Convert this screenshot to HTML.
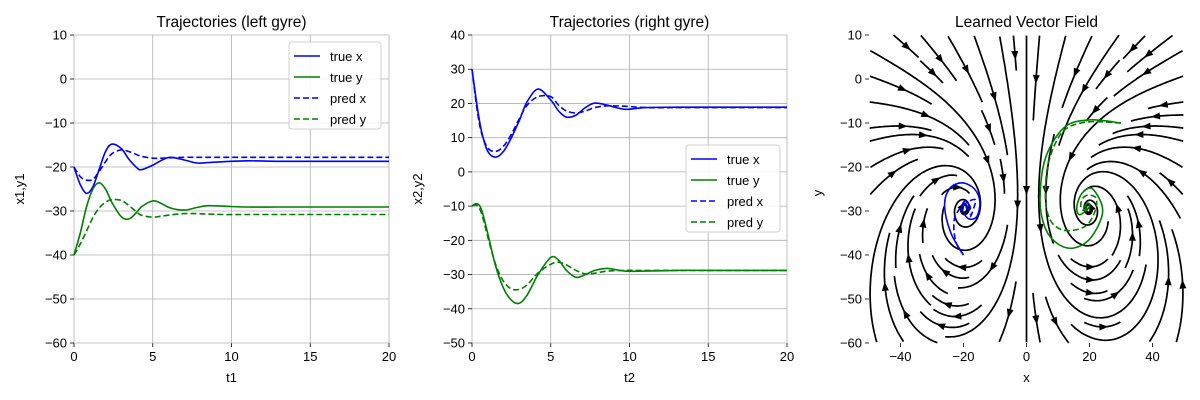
<!DOCTYPE html>
<html><head><meta charset="utf-8"><style>
body{margin:0;background:#fff}
svg{display:block;font-family:"Liberation Sans","DejaVu Sans",sans-serif}
</style></head><body>
<svg id="fig" width="1200" height="400" viewBox="0 0 1200 400"></svg>
<script>
// ---- data ----
const t1 = [0,0.4,0.8,1.2,1.6,2,2.4,3,3.5,4,4.3,5,5.5,6.1,7,7.8,8.5,9.5,11,13,15,20];
const trueX1 = [-20,-24,-26,-24.5,-20.5,-16.5,-14.8,-15.8,-18.3,-20.2,-20.6,-19.6,-18.6,-17.8,-18.4,-19.1,-19,-18.8,-18.6,-18.7,-18.7,-18.7];
const predX1 = [-20,-22.2,-23,-22.8,-21,-18.8,-17,-16.1,-16.5,-17.2,-17.6,-18,-18,-17.9,-17.8,-17.8,-17.8,-17.8,-17.8,-17.8,-17.8,-17.8];
const trueY1 = [-40,-35,-29,-25,-23.6,-25,-28,-31.3,-31.8,-30.2,-29,-27.7,-28.2,-29.3,-29.8,-29.2,-28.8,-28.9,-29.1,-29.1,-29.1,-29.1];
const predY1 = [-40,-37.5,-34.5,-31.5,-29.3,-28,-27.4,-27.6,-28.8,-30.3,-31,-31.4,-31.2,-30.9,-30.6,-30.6,-30.7,-30.8,-30.8,-30.8,-30.8,-30.8];
const t2 = [0,0.3,0.6,1,1.5,2,2.5,3,3.5,4.2,5,5.5,6,6.6,7.2,7.8,8.6,9.7,11,13,15,20];
const trueX2 = [30,20,12,6,4.3,6,10,15,20.5,24.2,21,17.8,16,16.6,18.8,20.1,19.5,18.3,18.8,18.9,18.9,18.9];
const predX2 = [30,19,11.5,7,6,7.5,11,15.5,19.5,22,22,19.5,17.8,17.2,17.8,18.8,19.3,19.2,18.8,18.8,18.8,18.8];
const trueY2 = [-10,-9.3,-11,-18,-27.5,-34,-37.5,-38.4,-36,-30,-25,-25.8,-28.8,-30.8,-30,-28.8,-28.2,-29,-29,-28.8,-28.8,-28.8];
const predY2 = [-10,-9.8,-12,-19,-27,-32,-34.2,-34.3,-33,-29.5,-27,-26.4,-27.2,-28.8,-29.8,-29.6,-29,-28.8,-28.8,-28.8,-28.8,-28.8];
const xTicks12 = [0,5,10,15,20];
const yTicks1 = [10,0,-10,-20,-30,-40,-50,-60];
const yTicks2 = [40,30,20,10,0,-10,-20,-30,-40,-50];
const xTicks3 = [-40,-20,0,20,40];
const yTicks3 = [10,0,-10,-20,-30,-40,-50,-60];
const gyreCenters = [[-19,-29,-1],[19,-29,1]];

const NS='http://www.w3.org/2000/svg';
const fig=document.getElementById('fig');
const fmt=v=>String(v).replace('-','\u2212');
function mk(tag,attrs,parent){const e=document.createElementNS(NS,tag);for(const k in attrs)e.setAttribute(k,attrs[k]);(parent||fig).appendChild(e);return e;}
function txt(s,x,y,size,anchor,parent,rot){const e=mk('text',{x:x,y:y,'font-size':size,'text-anchor':anchor||'middle',fill:'#000'},parent);if(rot)e.setAttribute('transform','rotate(-90 '+x+' '+y+')');e.textContent=s;return e;}
function smoothPath(pts){let d='M'+pts[0][0].toFixed(1)+','+pts[0][1].toFixed(1);for(let i=0;i<pts.length-1;i++){const p0=pts[Math.max(0,i-1)],p1=pts[i],p2=pts[i+1],p3=pts[Math.min(pts.length-1,i+2)];const c1=[p1[0]+(p2[0]-p0[0])/6,p1[1]+(p2[1]-p0[1])/6],c2=[p2[0]-(p3[0]-p1[0])/6,p2[1]-(p3[1]-p1[1])/6];d+='C'+c1[0].toFixed(1)+','+c1[1].toFixed(1)+' '+c2[0].toFixed(1)+','+c2[1].toFixed(1)+' '+p2[0].toFixed(1)+','+p2[1].toFixed(1);}return d;}

function timePanel(o){
  const g=mk('g',{});
  const L=o.left,R=o.left+315,T=35,B=343;
  const sx=v=>L+(v-0)/20*(R-L), sy=v=>T+(o.ymax-v)/(o.ymax-o.ymin)*(B-T);
  o.xt.forEach(v=>{mk('line',{x1:sx(v),x2:sx(v),y1:T,y2:B,stroke:'#b0b0b0','stroke-width':0.8},g);mk('line',{x1:sx(v),x2:sx(v),y1:B,y2:B+4,stroke:'#000','stroke-width':0.8},g);txt(fmt(v),sx(v),B+18,13,'middle',g);});
  o.yt.forEach(v=>{mk('line',{x1:L,x2:R,y1:sy(v),y2:sy(v),stroke:'#b0b0b0','stroke-width':0.8},g);mk('line',{x1:L-4,x2:L,y1:sy(v),y2:sy(v),stroke:'#000','stroke-width':0.8},g);txt(fmt(v),L-7,sy(v)+4.5,13,'end',g);});
  const t=txt(o.title,(L+R)/2,27,15.5,'middle',g);
  const xl=txt(o.xlab,(L+R)/2,382,13,'middle',g);
  const yl=txt(o.ylab,L-50,(T+B)/2,13,'middle',g,true);
  const series=[[o.tx,o.s[0],'blue',null,'true-x-line'],[o.tx,o.s[1],'green',null,'true-y-line'],[o.tx,o.s[2],'blue','6,3','pred-x-line'],[o.tx,o.s[3],'green','6,3','pred-y-line']];
  series.forEach(s=>{const p=mk('path',{d:smoothPath(s[0].map((tv,i)=>[sx(tv),sy(s[1][i])])),fill:'none',stroke:s[2],'stroke-width':1.6},g);if(s[3])p.setAttribute('stroke-dasharray',s[3]);});
  const lg=mk('g',{},g);
  mk('rect',{x:o.lx,y:o.ly,width:o.lw,height:87,rx:3,fill:'#fff','fill-opacity':0.85,stroke:'#d0d0d0'},lg);
  const labs=['true x','true y','pred x','pred y'],cols=['blue','green','blue','green'];
  labs.forEach((s,i)=>{const y=o.ly+14+i*21;const ln=mk('line',{x1:o.lx+5,x2:o.lx+31,y1:y,y2:y,stroke:cols[i],'stroke-width':1.6},lg);if(i>1)ln.setAttribute('stroke-dasharray','6,3');txt(s,o.lx+41,y+5,13,'start',lg);});
}
timePanel({name:'left-gyre-panel',left:74,ymax:10,ymin:-60,xt:xTicks12,yt:yTicks1,title:'Trajectories (left gyre)',xlab:'t1',ylab:'x1,y1',tx:t1,s:[trueX1,trueY1,predX1,predY1],lx:289,ly:42,lw:92});
timePanel({name:'right-gyre-panel',left:472,ymax:40,ymin:-50,xt:xTicks12,yt:yTicks2,title:'Trajectories (right gyre)',xlab:'t2',ylab:'x2,y2',tx:t2,s:[trueX2,trueY2,predX2,predY2],lx:686,ly:145,lw:94});

// ---- vector field panel ----
(function(){
  const g=mk('g',{});
  const L=869,R=1184,T=35,B=343,X0=-50,X1=50,Y0=-60,Y1=10;
  const sx=v=>L+(v-X0)/(X1-X0)*(R-L), sy=v=>T+(Y1-v)/(Y1-Y0)*(B-T);
  const t=txt('Learned Vector Field',(L+R)/2,27,15.5,'middle',g);
  xTicks3.forEach(v=>{mk('line',{x1:sx(v),x2:sx(v),y1:B,y2:B+4,stroke:'#000','stroke-width':0.8},g);txt(fmt(v),sx(v),B+18,13,'middle',g);});
  yTicks3.forEach(v=>{mk('line',{x1:L-4,x2:L,y1:sy(v),y2:sy(v),stroke:'#000','stroke-width':0.8},g);txt(fmt(v),L-7,sy(v)+4.5,13,'end',g);});
  const xl=txt('x',(L+R)/2,382,13,'middle',g);
  const yl=txt('y',L-47,(T+B)/2+4,13,'middle',g,true);
  function field(x,y){let u=0,v=0;gyreCenters.forEach(c=>{const dx=x-c[0],dy=y-c[1],r2=dx*dx+dy*dy+30;u+=(c[2]*-dy*1.0-dx*0.3)/r2*100;v+=(c[2]*dx*1.0-dy*0.3)/r2*100;});v-=0.3;return [u,v];}
  const N=25,occ=new Int32Array(N*N).fill(-1);
  const lines=g.appendChild(document.createElementNS(NS,'g'));
  
  let id=0;
  function integ(gx,gy,dir,myId,cells){const pts=[];let x=gx,y=gy;for(let k=0;k<700;k++){const dx=X0+x/N*(X1-X0),dy=Y0+y/N*(Y1-Y0);let [u,v]=field(dx,dy);u=u/(X1-X0)*N;v=v/(Y1-Y0)*N;const s=Math.hypot(u,v);if(s<1e-4)break;x+=dir*0.15*u/s;y+=dir*0.15*v/s;if(x<0||y<0||x>=N||y>=N)break;const ci=Math.floor(y)*N+Math.floor(x);if(occ[ci]!==-1&&occ[ci]!==myId)break;if(occ[ci]===-1){occ[ci]=myId;cells.push(ci);}pts.push([x,y]);}return pts;}
  const order=[];for(let r=0;r<N/2;r++){for(let i=r;i<N-r;i++)order.push([i,r]);for(let i=r+1;i<N-r;i++)order.push([N-1-r,i]);for(let i=N-2-r;i>=r;i--)order.push([i,N-1-r]);for(let i=N-2-r;i>r;i--)order.push([r,i]);}
  order.forEach(([i,j])=>{const ci=j*N+i;if(occ[ci]!==-1)return;const myId=id++;const cells=[ci];occ[ci]=myId;const f=integ(i+0.5,j+0.5,1,myId,cells),b=integ(i+0.5,j+0.5,-1,myId,cells);const pts=b.reverse().concat([[i+0.5,j+0.5]],f);if(pts.length<18){cells.forEach(c=>occ[c]=-1);return;}
    const P=pts.map(p=>[L+p[0]/N*(R-L),B-p[1]/N*(B-T)]);
    const pl=mk('polyline',{points:P.map(p=>p[0].toFixed(1)+','+p[1].toFixed(1)).join(' '),fill:'none',stroke:'#000','stroke-width':1.7,'stroke-linejoin':'round'},lines);
    
    const m=Math.floor(P.length/2),a=P[m],c=P[Math.min(P.length-1,m+1)];const ang=Math.atan2(c[1]-a[1],c[0]-a[0]);const ca=Math.cos(ang),sa=Math.sin(ang);
    const tri=[[6,0],[-3,3.5],[-3,-3.5]].map(q=>[a[0]+q[0]*ca-q[1]*sa,a[1]+q[0]*sa+q[1]*ca]);
    const ar=mk('polygon',{points:tri.map(p=>p[0].toFixed(1)+','+p[1].toFixed(1)).join(' '),fill:'#000'},lines);
    
  });
  const ph=[[trueX1,trueY1,'blue',null,'left-true-trajectory'],[predX1,predY1,'blue','6,3','left-pred-trajectory'],[trueX2,trueY2,'green',null,'right-true-trajectory'],[predX2,predY2,'green','6,3','right-pred-trajectory']];
  ph.forEach(s=>{const p=mk('path',{d:smoothPath(s[0].map((xv,i)=>[sx(xv),sy(s[1][i])])),fill:'none',stroke:s[2],'stroke-width':1.6},g);if(s[3])p.setAttribute('stroke-dasharray',s[3]);});
})();
</script>
</body></html>
